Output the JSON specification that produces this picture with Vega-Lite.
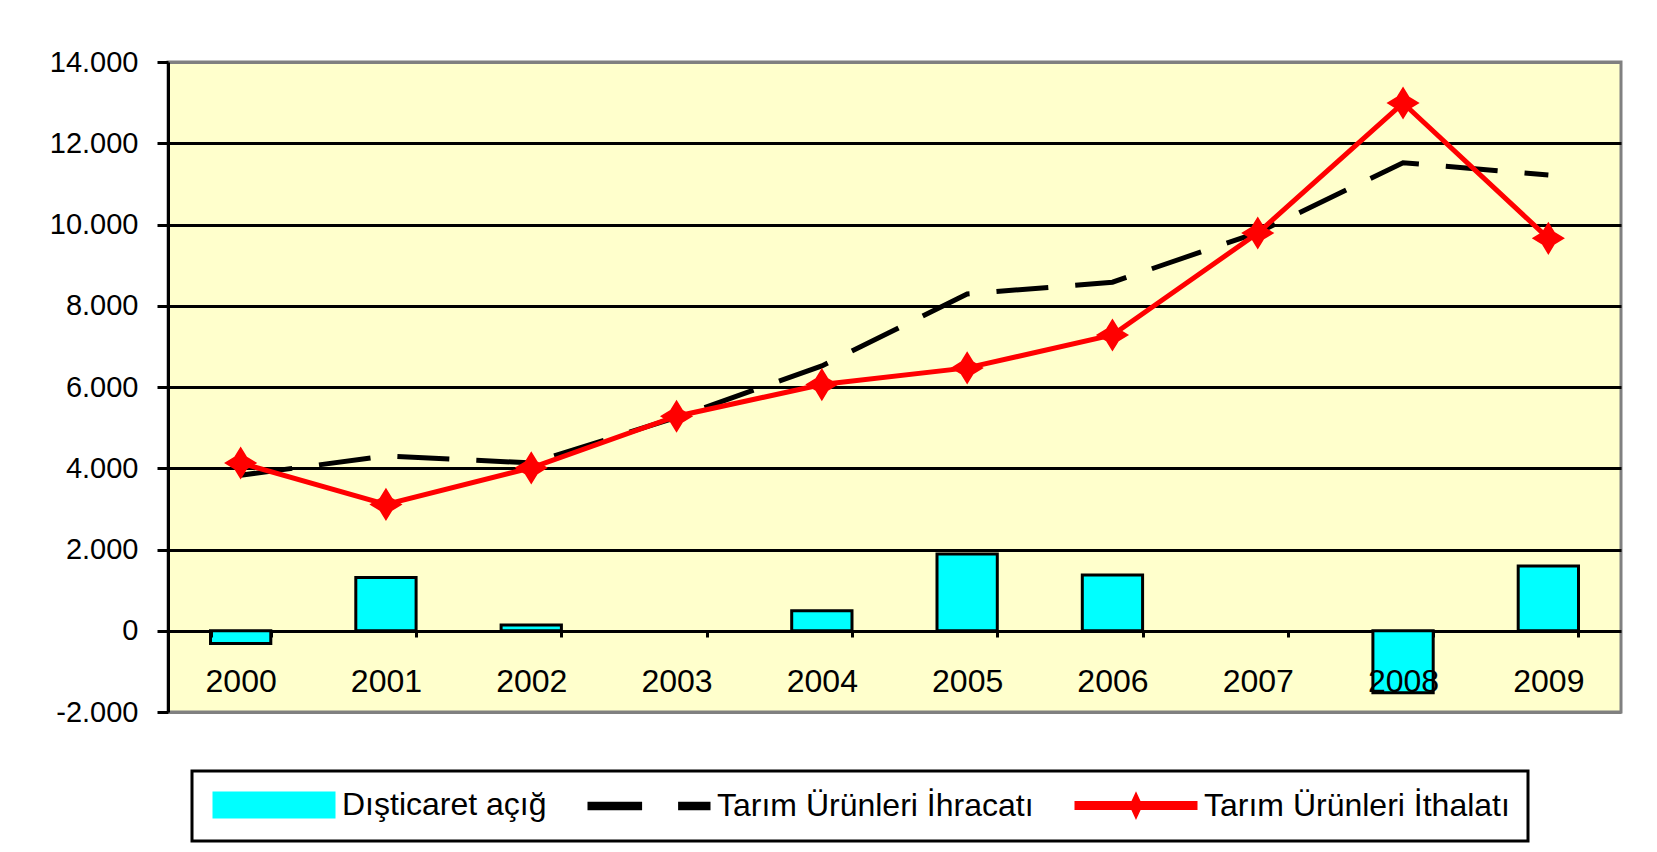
{
  "$schema": "https://vega.github.io/schema/vega-lite/v6.json",
  "width": 1453,
  "height": 650,
  "autosize": {"type": "none"},
  "padding": {"left": 168, "top": 62, "right": 36, "bottom": 140},
  "background": "white",
  "config": {
    "font": "Liberation Sans",
    "view": {"fill": "#FFFFCC", "stroke": "#808080", "strokeWidth": 3}
  },
  "data": {
    "values": [
      {"year": "2000", "series": "Dışticaret açığ", "value": -315},
      {"year": "2001", "series": "Dışticaret açığ", "value": 1310},
      {"year": "2002", "series": "Dışticaret açığ", "value": 140},
      {"year": "2004", "series": "Dışticaret açığ", "value": 495},
      {"year": "2005", "series": "Dışticaret açığ", "value": 1890},
      {"year": "2006", "series": "Dışticaret açığ", "value": 1375},
      {"year": "2008", "series": "Dışticaret açığ", "value": -1525},
      {"year": "2009", "series": "Dışticaret açığ", "value": 1595},
      {"year": "2000", "series": "Tarım Ürünleri İhracatı", "value": 3830},
      {"year": "2001", "series": "Tarım Ürünleri İhracatı", "value": 4300},
      {"year": "2002", "series": "Tarım Ürünleri İhracatı", "value": 4130},
      {"year": "2003", "series": "Tarım Ürünleri İhracatı", "value": 5250},
      {"year": "2004", "series": "Tarım Ürünleri İhracatı", "value": 6520},
      {"year": "2005", "series": "Tarım Ürünleri İhracatı", "value": 8290},
      {"year": "2006", "series": "Tarım Ürünleri İhracatı", "value": 8580},
      {"year": "2007", "series": "Tarım Ürünleri İhracatı", "value": 9800},
      {"year": "2008", "series": "Tarım Ürünleri İhracatı", "value": 11520},
      {"year": "2009", "series": "Tarım Ürünleri İhracatı", "value": 11220},
      {"year": "2000", "series": "Tarım Ürünleri İthalatı", "value": 4130},
      {"year": "2001", "series": "Tarım Ürünleri İthalatı", "value": 3110},
      {"year": "2002", "series": "Tarım Ürünleri İthalatı", "value": 4010},
      {"year": "2003", "series": "Tarım Ürünleri İthalatı", "value": 5280},
      {"year": "2004", "series": "Tarım Ürünleri İthalatı", "value": 6060},
      {"year": "2005", "series": "Tarım Ürünleri İthalatı", "value": 6470},
      {"year": "2006", "series": "Tarım Ürünleri İthalatı", "value": 7280},
      {"year": "2007", "series": "Tarım Ürünleri İthalatı", "value": 9790},
      {"year": "2008", "series": "Tarım Ürünleri İthalatı", "value": 12990},
      {"year": "2009", "series": "Tarım Ürünleri İthalatı", "value": 9660}
    ]
  },
  "encoding": {
    "x": {
      "field": "year",
      "type": "ordinal",
      "scale": {"paddingInner": 0.585, "paddingOuter": 0.2925},
      "axis": {
        "orient": "bottom",
        "offset": -81,
        "domain": false,
        "grid": false,
        "ticks": true,
        "tickBand": "extent",
        "tickSize": 6,
        "tickWidth": 3,
        "tickColor": "black",
        "labelFontSize": 32,
        "labelColor": "black",
        "labelPadding": 29,
        "labelAngle": 0,
        "title": null,
        "zindex": 1
      }
    },
    "y": {
      "field": "value",
      "type": "quantitative",
      "scale": {"domain": [-2000, 14000], "nice": false, "zero": false},
      "axis": {
        "values": [-2000, 0, 2000, 4000, 6000, 8000, 10000, 12000, 14000],
        "labelExpr": "(datum.value < 0 ? '-' : '') + replace(format(abs(datum.value), ','), ',', '.')",
        "title": null,
        "domain": true,
        "domainColor": "black",
        "domainWidth": 3,
        "ticks": true,
        "tickSize": 11,
        "tickWidth": 3,
        "tickColor": "black",
        "grid": true,
        "gridWidth": 3,
        "gridColor": {"condition": {"test": "datum.value === 14000 || datum.value === -2000", "value": "#808080"}, "value": "black"},
        "labelFontSize": 29,
        "labelColor": "black",
        "labelPadding": 19,
        "zindex": 0
      }
    },
    "color": {
      "field": "series",
      "type": "nominal",
      "scale": {
        "domain": ["Dışticaret açığ", "Tarım Ürünleri İhracatı", "Tarım Ürünleri İthalatı"],
        "range": ["#00FFFF", "#000000", "#FF0000"]
      },
      "legend": {
        "orient": "none",
        "legendX": 24,
        "legendY": 709,
        "direction": "horizontal",
        "title": null,
        "strokeColor": "black",
        "padding": 18,
        "symbolSize": 576,
        "labelFontSize": 32,
        "labelColor": "black",
        "labelOffset": 100,
        "columnPadding": 36,
        "labelLimit": 0,
        "encode": {
          "legend": {"update": {"strokeWidth": {"value": 3}}},
          "symbols": {
            "update": {
              "shape": [
                {"test": "datum.value === 'Dışticaret açığ'", "value": "M-1,-1L9,-1L9,1L-1,1Z"},
                {"test": "datum.value === 'Tarım Ürünleri İhracatı'", "value": "M-1,-0.22L3.3,-0.22L3.3,0.22L-1,0.22Z M6.55,-0.22L9,-0.22L9,0.22L6.55,0.22Z"},
                {"value": "M-1,-0.25L3.7,-0.25L4,-0.9L4.3,-0.25L9,-0.25L9,0.25L4.3,0.25L4,0.9L3.7,0.25L-1,0.25Z"}
              ],
              "fill": [
                {"test": "datum.value === 'Dışticaret açığ'", "value": "#00FFFF"},
                {"test": "datum.value === 'Tarım Ürünleri İhracatı'", "value": "#000000"},
                {"value": "#FF0000"}
              ],
              "stroke": [
                {"test": "datum.value === 'Dışticaret açığ'", "value": "#000000"},
                {"test": "datum.value === 'Tarım Ürünleri İhracatı'", "value": "#000000"},
                {"value": "#FF0000"}
              ],
              "strokeWidth": {"value": 3},
              "size": {"value": 576},
              "opacity": {"value": 1},
              "fillOpacity": {"value": 1}
            }
          }
        }
      }
    }
  },
  "layer": [
    {
      "transform": [{"filter": "datum.series === 'Dışticaret açığ'"}],
      "mark": {"type": "bar", "stroke": "black", "strokeWidth": 3}
    },
    {
      "transform": [{"filter": "datum.series === 'Tarım Ürünleri İhracatı'"}],
      "mark": {"type": "line", "strokeWidth": 5, "strokeDash": [52, 27], "strokeCap": "butt"}
    },
    {
      "transform": [{"filter": "datum.series === 'Tarım Ürünleri İthalatı'"}],
      "mark": {"type": "line", "strokeWidth": 5}
    },
    {
      "transform": [{"filter": "datum.series === 'Tarım Ürünleri İthalatı'"}],
      "mark": {"type": "point", "filled": true, "opacity": 1, "size": 1100, "shape": "M0,-1L0.38,-0.38L1,0L0.38,0.38L0,1L-0.38,0.38L-1,0L-0.38,-0.38Z"}
    }
  ]
}
